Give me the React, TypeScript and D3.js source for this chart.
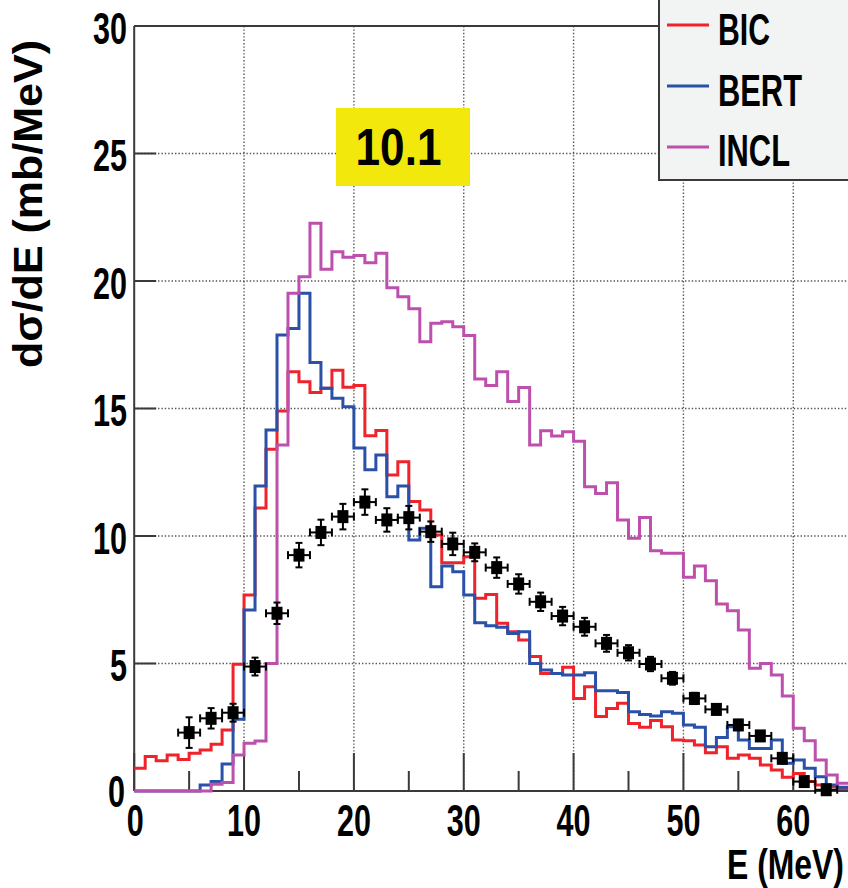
import React from "react";
import * as d3 from "d3";

// ---- data ----
const binEdgesMax = 65; // 1 MeV bins from 0 to 65
const bicValues = [0.89, 1.35, 1.19, 1.41, 1.24, 1.48, 1.61, 1.83, 2.39, 4.97, 7.69, 11.1, 13.4, 14.9, 16.44, 16.05, 15.63, 15.79, 16.5, 15.83, 15.9, 13.93, 14.14, 12.39, 12.91, 11.35, 11.02, 10.04, 8.95, 8.95, 9.19, 7.56, 7.71, 6.58, 6.25, 5.92, 5.27, 4.61, 4.61, 4.85, 3.63, 4.09, 2.92, 3.24, 3.44, 2.65, 2.5, 2.76, 2.52, 2.0, 1.97, 1.8, 1.5, 1.74, 1.28, 1.41, 1.28, 1.02, 0.82, 0.54, 0.69, 0.37, 0.24, 0.17, 0.1];
const bertValues = [0, 0, 0, 0, 0, 0, 0.24, 0.37, 1.06, 2.81, 7.1, 11.96, 14.16, 17.88, 18.14, 19.52, 16.8, 15.79, 15.4, 15.07, 13.45, 12.6, 13.18, 11.54, 11.96, 9.84, 10.3, 8.01, 8.82, 8.6, 7.69, 6.6, 6.48, 6.42, 6.18, 6.25, 5.0, 4.75, 4.61, 4.55, 4.55, 4.64, 3.93, 3.93, 3.86, 3.11, 3.0, 2.94, 3.11, 3.05, 2.59, 2.5, 1.74, 2.1, 2.52, 2.0, 1.67, 1.67, 2.0, 1.09, 1.22, 0.89, 0.56, 0.24, 0.15];
const inclValues = [0, 0, 0, 0, 0, 0, 0, 0.26, 0.33, 1.41, 1.87, 1.96, 5.0, 13.57, 19.52, 20.17, 22.26, 20.46, 21.15, 20.93, 21.0, 20.72, 21.09, 19.74, 19.38, 18.91, 17.62, 18.34, 18.4, 18.21, 17.86, 16.16, 15.9, 16.44, 15.27, 15.82, 13.57, 14.13, 13.92, 14.09, 13.72, 11.93, 11.67, 12.09, 10.63, 9.91, 10.73, 9.42, 9.32, 9.32, 8.38, 8.82, 8.25, 7.33, 7.07, 6.31, 4.81, 5.0, 4.55, 3.73, 2.46, 1.97, 1.22, 0.63, 0.3];

const dataX = [5, 7, 9, 11, 13, 15, 17, 19, 21, 23, 25, 27, 29, 31, 33, 35, 37, 39, 41, 43, 45, 47, 49, 51, 53, 55, 57, 59, 61, 63];
const dataY = [2.29, 2.85, 3.07, 4.88, 6.97, 9.25, 10.14, 10.76, 11.33, 10.63, 10.72, 10.17, 9.69, 9.36, 8.76, 8.12, 7.42, 6.86, 6.44, 5.79, 5.42, 4.98, 4.42, 3.63, 3.2, 2.59, 2.16, 1.28, 0.37, 0.05];
const dataErrY = [0.6, 0.4, 0.35, 0.35, 0.42, 0.48, 0.5, 0.5, 0.5, 0.46, 0.46, 0.4, 0.44, 0.35, 0.4, 0.38, 0.36, 0.36, 0.35, 0.33, 0.3, 0.28, 0.25, 0.22, 0.2, 0.2, 0.18, 0.15, 0.1, 0.05];
const dataErrX = 1;

const xTicksMajor = [0, 10, 20, 30, 40, 50, 60];
const xTicksMinor = [5, 15, 25, 35, 45, 55];
const yTicks = [0, 5, 10, 15, 20, 25, 30];

const seriesNames = ["BIC", "BERT", "INCL"];
const seriesColors = ["#f0222a", "#2a50a8", "#bd50ad"];
const seriesValues = [bicValues, bertValues, inclValues];

const xTitle = "E (MeV)";
const yTitle = "dσ/dE (mb/MeV)";
const boxLabel = "10.1";

const W = 848;
const H = 888;

export default function App() {
  const x = d3.scaleLinear().domain([0, binEdgesMax]).range([134.2, 848.2]);
  const y = d3.scaleLinear().domain([0, 30]).range([791, 26]);
  const left = x(0);
  const bottom = y(0);
  const top = y(30);
  const axisColor = "#3a3a3a";
  const gridColor = "#555";
  const font = "'Liberation Sans', Arial, Helvetica, sans-serif";

  const histPath = (vals: number[]) => {
    const pts: [number, number][] = vals.map((v, i) => [i, v]);
    pts.push([vals.length, vals[vals.length - 1]]);
    return d3
      .line<[number, number]>()
      .x((d) => x(d[0]))
      .y((d) => y(d[1]))
      .curve(d3.curveStepAfter)(pts) as string;
  };

  const legendX = 659;
  const legendRows = [25, 86, 147];
  const legendBase = [45, 106, 166];

  return (
    <svg
      width={W}
      height={H}
      style={{ position: "absolute", left: 0, top: 0, background: "#fff" }}
      fontFamily={font}
    >
      <rect x={0} y={0} width={W} height={H} fill="#fff" />
      {/* grid */}
      {xTicksMajor.filter((t) => t > 0).map((t) => (
        <line key={"gx" + t} x1={x(t)} x2={x(t)} y1={top} y2={bottom} stroke={gridColor} strokeWidth={1.4} strokeDasharray="1.4 2" />
      ))}
      {yTicks.filter((t) => t > 0 && t < 30).map((t) => (
        <line key={"gy" + t} x1={left} x2={W} y1={y(t)} y2={y(t)} stroke={gridColor} strokeWidth={1.4} strokeDasharray="1.4 2" />
      ))}
      {/* frame */}
      <line x1={left} x2={left} y1={top} y2={bottom} stroke={axisColor} strokeWidth={2} />
      <line x1={left} x2={legendX} y1={top} y2={top} stroke={axisColor} strokeWidth={2} />
      <line x1={left} x2={W} y1={bottom} y2={bottom} stroke={axisColor} strokeWidth={2} />
      {/* ticks */}
      {xTicksMajor.map((t) => (
        <line key={"tx" + t} x1={x(t)} x2={x(t)} y1={bottom} y2={bottom - 38} stroke={axisColor} strokeWidth={2} />
      ))}
      {xTicksMinor.map((t) => (
        <line key={"tm" + t} x1={x(t)} x2={x(t)} y1={bottom} y2={bottom - 20} stroke={axisColor} strokeWidth={2} />
      ))}
      {yTicks.map((t) => (
        <line key={"ty" + t} x1={left} x2={left + 22} y1={y(t)} y2={y(t)} stroke={axisColor} strokeWidth={2} />
      ))}
      {/* histograms */}
      {seriesValues.map((vals, i) => (
        <path key={"h" + i} d={histPath(vals)} fill="none" stroke={seriesColors[i]} strokeWidth={3} strokeLinejoin="miter" />
      ))}
      {/* data points */}
      {dataX.map((dx, i) => {
        const cx = x(dx);
        const cy = y(dataY[i]);
        const yl = y(dataY[i] - dataErrY[i]);
        const yh = y(dataY[i] + dataErrY[i]);
        const xl = x(dx - dataErrX);
        const xh = x(dx + dataErrX);
        return (
          <g key={"p" + i} stroke="#000" strokeWidth={2}>
            <line x1={xl} x2={xh} y1={cy} y2={cy} />
            <line x1={xl} x2={xl} y1={cy - 4} y2={cy + 4} />
            <line x1={xh} x2={xh} y1={cy - 4} y2={cy + 4} />
            <line x1={cx} x2={cx} y1={yl} y2={yh} />
            <line x1={cx - 3.5} x2={cx + 3.5} y1={yl} y2={yl} />
            <line x1={cx - 3.5} x2={cx + 3.5} y1={yh} y2={yh} />
            <rect x={cx - 5.5} y={cy - 6.5} width={11} height={13} fill="#000" stroke="none" />
          </g>
        );
      })}
      {/* x tick labels */}
      {xTicksMajor.map((t) => {
        const s = String(t);
        return (
          <text key={"lx" + t} x={x(t) + (t === 0 ? 1 : 0)} y={836} textAnchor="middle" fontSize={44} fontWeight="bold" textLength={s.length * 17} lengthAdjust="spacingAndGlyphs">
            {s}
          </text>
        );
      })}
      {/* y tick labels */}
      {yTicks.map((t) => {
        const s = String(t);
        return (
          <text key={"ly" + t} x={t === 0 ? 125 : 127} y={y(t) + 17.5 - (t === 0 ? 2 : 0)} textAnchor="end" fontSize={44} fontWeight="bold" textLength={s.length * 17} lengthAdjust="spacingAndGlyphs">
            {s}
          </text>
        );
      })}
      {/* axis titles */}
      <text x={844} y={879} textAnchor="end" fontSize={42} fontWeight="bold" textLength={117} lengthAdjust="spacingAndGlyphs">
        {xTitle}
      </text>
      <text
        transform={`translate(42,204) rotate(-90)`}
        textAnchor="middle"
        fontSize={40}
        fontWeight="bold"
        textLength={328}
        lengthAdjust="spacingAndGlyphs"
      >
        {yTitle}
      </text>
      {/* yellow label box */}
      <rect x={336} y={108} width={134} height={78} fill="#f2e80c" />
      <text x={398.5} y={165} textAnchor="middle" fontSize={51} fontWeight="bold" textLength={86} lengthAdjust="spacingAndGlyphs">
        {boxLabel}
      </text>
      {/* legend */}
      <rect x={legendX} y={-10} width={W - legendX + 20} height={190} fill="#f2f3f3" stroke={axisColor} strokeWidth={2} />
      {seriesNames.map((n, i) => (
        <g key={"lg" + i}>
          <line x1={667} x2={709} y1={legendRows[i]} y2={legendRows[i]} stroke={seriesColors[i]} strokeWidth={3} />
          <text x={718} y={legendBase[i]} fontSize={45} fontWeight="bold" textLength={[52, 84, 72][i]} lengthAdjust="spacingAndGlyphs">
            {n}
          </text>
        </g>
      ))}
    </svg>
  );
}
